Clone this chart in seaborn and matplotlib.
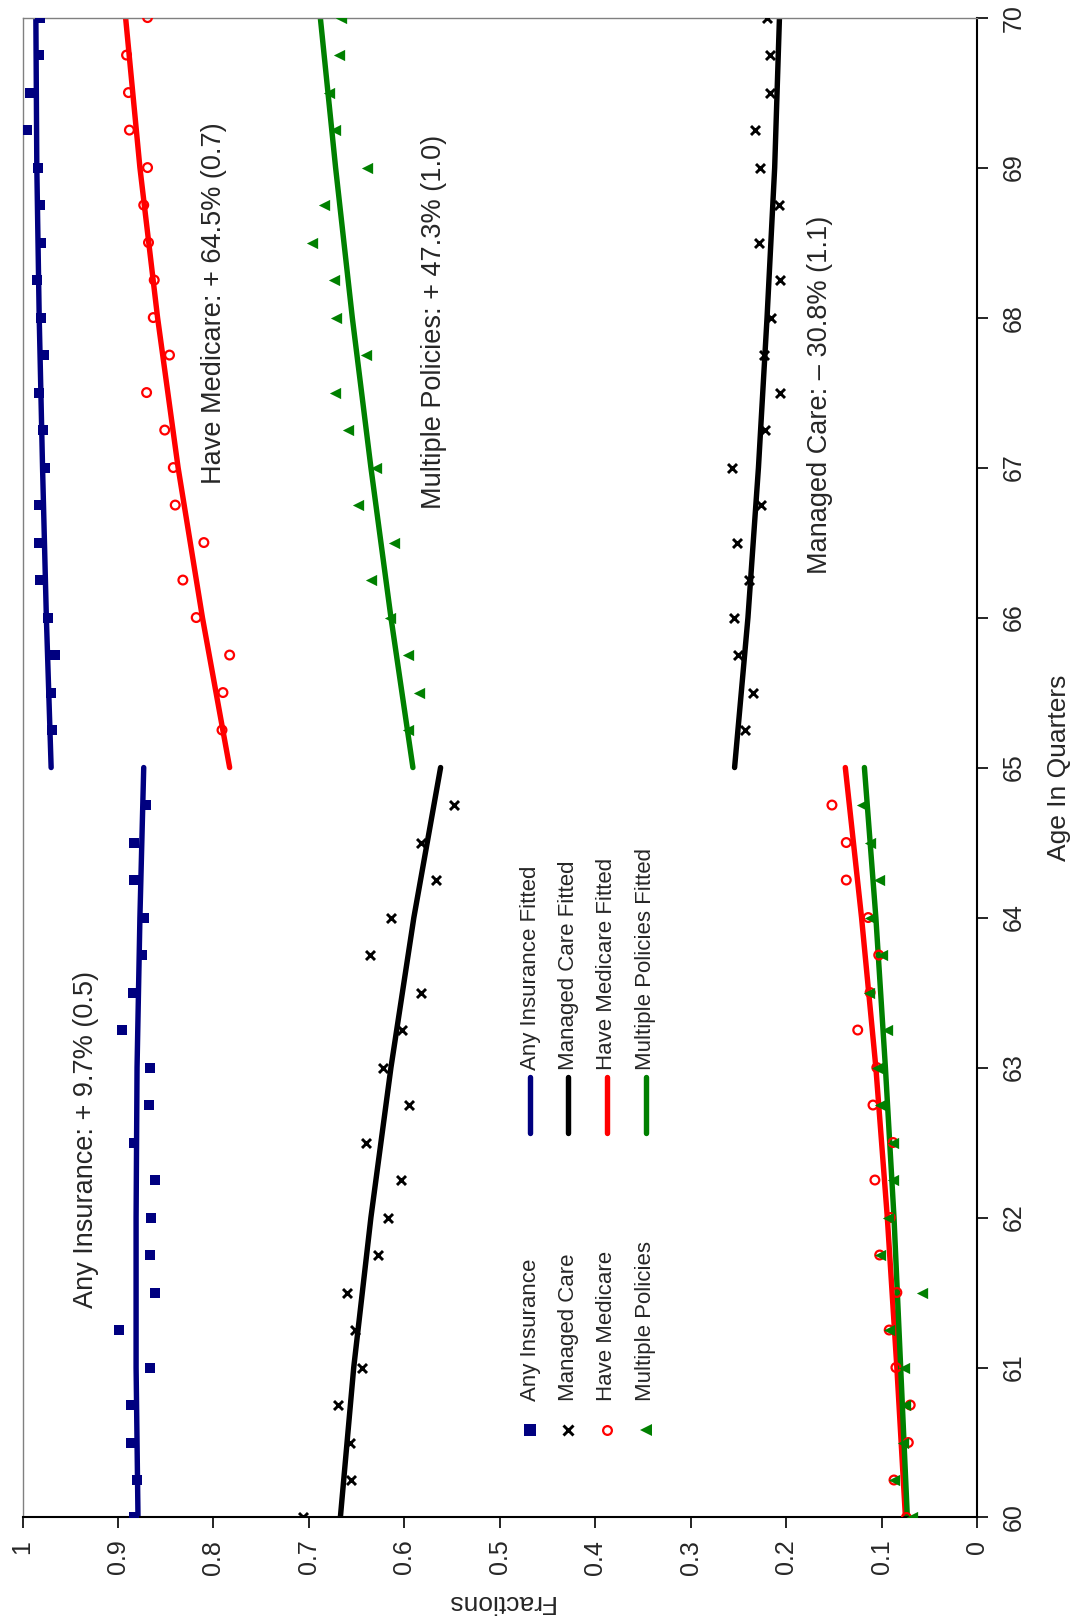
import matplotlib
matplotlib.use("Agg")
import matplotlib.pyplot as plt
import seaborn as sns

# ---------------- data ----------------
ages_pre = [60.0, 60.25, 60.5, 60.75, 61.0, 61.25, 61.5, 61.75, 62.0, 62.25,
            62.5, 62.75, 63.0, 63.25, 63.5, 63.75, 64.0, 64.25, 64.5, 64.75]
ages_post = [65.25, 65.5, 65.75, 66.0, 66.25, 66.5, 66.75, 67.0, 67.25, 67.5,
             67.75, 68.0, 68.25, 68.5, 68.75, 69.0, 69.25, 69.5, 69.75, 70.0]

any_pre = [0.883, 0.880, 0.886, 0.886, 0.866, 0.899, 0.861, 0.866, 0.865, 0.861,
           0.883, 0.867, 0.866, 0.896, 0.884, 0.875, 0.873, 0.883, 0.883, 0.871]
any_post = [0.969, 0.970, 0.966, 0.973, 0.982, 0.983, 0.983, 0.976, 0.979, 0.983,
            0.978, 0.981, 0.985, 0.981, 0.982, 0.984, 0.995, 0.992, 0.983, 0.982]

mc_pre = [0.706, 0.656, 0.657, 0.669, 0.644, 0.652, 0.660, 0.628, 0.617, 0.603,
          0.640, 0.595, 0.622, 0.602, 0.583, 0.636, 0.614, 0.567, 0.583, 0.548]
mc_post = [0.243, 0.235, 0.250, 0.255, 0.239, 0.251, 0.226, 0.257, 0.222, 0.206,
           0.223, 0.216, 0.206, 0.228, 0.207, 0.227, 0.233, 0.217, 0.217, 0.220]

med_pre = [0.074, 0.087, 0.072, 0.070, 0.085, 0.092, 0.084, 0.102, 0.091, 0.107,
           0.088, 0.109, 0.105, 0.125, 0.112, 0.103, 0.114, 0.137, 0.137, 0.152]
med_post = [0.791, 0.790, 0.783, 0.818, 0.832, 0.810, 0.840, 0.842, 0.851, 0.870,
            0.846, 0.863, 0.862, 0.868, 0.873, 0.869, 0.888, 0.889, 0.891, 0.869]

mp_pre = [0.068, 0.087, 0.078, 0.075, 0.077, 0.092, 0.058, 0.102, 0.093, 0.088,
          0.088, 0.102, 0.105, 0.094, 0.113, 0.100, 0.112, 0.103, 0.112, 0.121]
mp_post = [0.596, 0.585, 0.596, 0.615, 0.635, 0.611, 0.648, 0.630, 0.659, 0.673,
           0.640, 0.672, 0.674, 0.697, 0.684, 0.639, 0.673, 0.679, 0.668, 0.666]

# fitted curves read at yearly ages
fit_ages_pre = [60, 61, 62, 63, 64, 65]
fit_ages_post = [65, 66, 67, 68, 69, 70]
any_fit_pre = [0.879, 0.881, 0.881, 0.880, 0.877, 0.873]
any_fit_post = [0.970, 0.975, 0.979, 0.9825, 0.985, 0.986]
mc_fit_pre = [0.667, 0.653, 0.635, 0.614, 0.590, 0.562]
mc_fit_post = [0.254, 0.240, 0.229, 0.220, 0.212, 0.207]
med_fit_pre = [0.075, 0.084, 0.094, 0.106, 0.121, 0.138]
med_fit_post = [0.783, 0.8115, 0.837, 0.8585, 0.877, 0.892]
mp_fit_pre = [0.073, 0.080, 0.087, 0.096, 0.106, 0.118]
mp_fit_post = [0.591, 0.614, 0.635, 0.6545, 0.672, 0.688]

series_names = ["Any Insurance", "Managed Care", "Have Medicare", "Multiple Policies"]
annotations = ["Any Insurance: + 9.7% (0.5)", "Have Medicare: + 64.5% (0.7)",
               "Multiple Policies: + 47.3% (1.0)", "Managed Care: \u2013 30.8% (1.1)"]
frac_ticks = [0, 0.1, 0.2, 0.3, 0.4, 0.5, 0.6, 0.7, 0.8, 0.9, 1]
frac_labels = ["0", "0.1", "0.2", "0.3", "0.4", "0.5", "0.6", "0.7", "0.8", "0.9", "1"]
age_ticks = [60, 61, 62, 63, 64, 65, 66, 67, 68, 69, 70]

# ---------------- style ----------------
sns.set_style("white")
plt.rcParams["font.family"] = ["Liberation Sans", "DejaVu Sans"]

NAVY, BLACK, RED, GREEN = "#000080", "#000000", "#FF0000", "#008000"
colors = [NAVY, BLACK, RED, GREEN]

fig = plt.figure(figsize=(10.73, 16.21), dpi=100)
ax = fig.add_axes([0.02097, 0.06385, 0.8896, 0.9253])

# fitted lines
fits = [(any_fit_pre, any_fit_post), (mc_fit_pre, mc_fit_post),
        (med_fit_pre, med_fit_post), (mp_fit_pre, mp_fit_post)]
for (fpre, fpost), c in zip(fits, colors):
    for fv, fa in ((fpre, fit_ages_pre), (fpost, fit_ages_post)):
        sns.lineplot(x=fv, y=fa, sort=False, estimator=None, color=c,
                     linewidth=3.9, solid_capstyle="round", ax=ax, zorder=2)

# markers
sq_kw = dict(marker="s", s=62, color=NAVY, edgecolor=NAVY, linewidth=0)
x_kw = dict(marker="x", s=42, color=BLACK, linewidth=2.1)
o_kw = dict(marker="o", s=40, color=RED, facecolor="none", edgecolor=RED, linewidth=1.6)
t_kw = dict(marker="<", s=66, color=GREEN, edgecolor=GREEN, linewidth=0)
for vals_pre, vals_post, kw in ((any_pre, any_post, sq_kw), (mc_pre, mc_post, x_kw),
                                (med_pre, med_post, o_kw), (mp_pre, mp_post, t_kw)):
    sns.scatterplot(x=vals_pre + vals_post, y=ages_pre + ages_post, ax=ax,
                    zorder=3, legend=False, **kw)

ax.set_xlim(1, 0)
ax.set_ylim(60, 70)
ax.set_xticks(frac_ticks)
ax.set_xticklabels(frac_labels)
ax.set_yticks(age_ticks)
ax.set_yticklabels([str(a) for a in age_ticks])
ax.yaxis.tick_right()
ax.yaxis.set_label_position("right")

ax.tick_params(axis="x", direction="out", length=8, width=1.2, color="black",
               labelsize=18, labelrotation=90, pad=8, bottom=True)
ax.tick_params(axis="y", direction="out", length=8, width=1.2, color="black",
               labelsize=18, labelrotation=90, pad=10, right=True, left=False)
for lab in ax.get_yticklabels():
    lab.set_va("center")
    lab.set_ha("left")

for side in ("left", "top"):
    ax.spines[side].set_color("#808080")
    ax.spines[side].set_linewidth(1.0)
for side in ("right", "bottom"):
    ax.spines[side].set_color("black")
    ax.spines[side].set_linewidth(1.5)

ax.set_xlabel("Fractions", fontsize=19, rotation=180, va="center", ha="center")
ax.xaxis.set_label_coords(0.5, -0.0565)
ax.set_ylabel("Age In Quarters", fontsize=19, rotation=90, va="center", ha="center")
ax.yaxis.set_label_coords(1.0855, 0.5)

# annotations
ann_pos = [(0.0666, 0.2523), (0.2006, 0.8094), (0.4311, 0.7971), (0.8355, 0.7484)]
for txt, (xa, ya) in zip(annotations, ann_pos):
    ax.text(xa, ya, txt, transform=ax.transAxes, rotation=90, fontsize=19.5,
            ha="center", va="center")

# legend (drawn rotated, no frame)
row_x = [0.5317, 0.5718, 0.6120, 0.6529]
marker_styles = [("s", NAVY, NAVY, 8.0), ("x", BLACK, BLACK, 6.5),
                 ("o", "none", RED, 6.3), ("<", GREEN, GREEN, 8.0)]
for xr, name, (m, fc, ec, ms), c in zip(row_x, series_names, marker_styles, colors):
    ax.plot([xr], [0.0583], transform=ax.transAxes, marker=m, markersize=ms,
            markerfacecolor=fc, markeredgecolor=ec,
            markeredgewidth=2.1 if m == "x" else (1.6 if m == "o" else 0),
            linestyle="none", clip_on=False, zorder=4)
    ax.text(xr, 0.0779, name, transform=ax.transAxes, rotation=90, fontsize=16,
            ha="center", va="bottom")
    ax.plot([xr, xr], [0.2563, 0.2937], transform=ax.transAxes, color=c,
            linewidth=3.9, solid_capstyle="round", zorder=4)
    ax.text(xr, 0.2983, name + " Fitted", transform=ax.transAxes, rotation=90,
            fontsize=16, ha="center", va="bottom")

fig.savefig("out.png", dpi=100)
